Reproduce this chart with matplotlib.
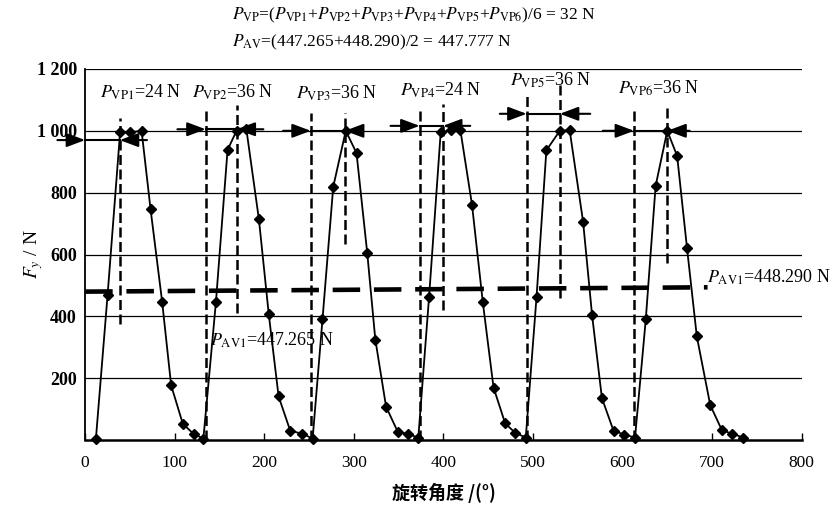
import numpy as np
import matplotlib
matplotlib.use('Agg')
import matplotlib.pyplot as plt

plt.rcParams['font.family'] = ['Liberation Serif', 'DejaVu Serif']
plt.rcParams['mathtext.fontset'] = 'stix'

# measured force curve (rotation angle in deg, Fy in N)
angle = [12, 25, 39, 50, 63, 73, 86, 96, 109, 121, 132,
         146, 159, 169, 180, 194, 205, 216, 229, 242, 254,
         265, 277, 291, 303, 315, 324, 336, 349, 360, 372,
         384, 397, 409, 419, 432, 444, 456, 469, 480, 492,
         504, 515, 530, 541, 556, 566, 577, 590, 602, 614,
         626, 637, 650, 661, 672, 683, 698, 711, 722, 735]
force = [5, 468, 995, 995, 1000, 747, 446, 177, 53, 20, 5,
         446, 938, 1000, 1005, 714, 407, 141, 30, 21, 5,
         390, 819, 1000, 928, 604, 325, 108, 27, 20, 8,
         462, 995, 1002, 1002, 760, 446, 170, 54, 24, 8,
         462, 937, 1000, 1002, 706, 405, 136, 30, 18, 8,
         390, 822, 1000, 919, 622, 335, 113, 32, 21, 8]

# average force line
pav_x = [0, 695]
pav_y = [480, 494]

# peak-to-peak markers
vp_labels = ['24', '36', '36', '24', '36', '36']
vp_left = [0, 134.6, 252, 373.5, 493, 613]
vp_right = [38.6, 169, 290, 399.5, 530, 650]
arr_h = [970, 1005, 1000, 1016, 1055, 1000]
arr_start = [-31, 103, 221, 341, 463, 578]
arr_end = [69, 199, 309, 430, 564, 675]
# vertical dashed guides
left_top = [None, 1070, 1058, 1074, 1119, 1065]
right_top = [1040, 1085, 1058, 1087, 1151, 1080]
right_bot = [375, 410, 635, 419, 458, 571]
lab_x = [17, 119, 235, 352, 474, 595]
lab_y = [1125, 1125, 1120, 1131, 1164, 1138]

fig = plt.figure(figsize=(8.35, 5.07), dpi=100)
ax = fig.add_axes([0.102, 0.132, 0.858, 0.732])

ax.set_xlim(0, 800)
ax.set_ylim(0, 1200)
ax.set_yticks([200, 400, 600, 800, 1000, 1200])
ax.set_yticklabels(['200', '400', '600', '800', '1 000', '1 200'],
                   fontsize=13, fontweight='bold')
ax.set_xticks(np.arange(0, 801, 100))
ax.set_xticklabels([str(v) for v in range(0, 801, 100)], fontsize=12.5)
ax.tick_params(axis='x', direction='in', length=5, width=1, pad=11)
ax.tick_params(axis='y', length=0, pad=6)
ax.yaxis.grid(True, color='k', lw=0.9)
ax.set_axisbelow(True)
for s in ['top', 'right']:
    ax.spines[s].set_visible(False)
ax.spines['left'].set_linewidth(1.3)
ax.spines['bottom'].set_linewidth(1.8)

ax.plot(angle, force, 'k-', lw=1.3, marker='D', ms=5.5, zorder=5, clip_on=False)

ax.plot(pav_x, pav_y, color='k', lw=3.3, ls=(0, (6, 3)), zorder=3)

for i in range(6):
    h = arr_h[i]
    ax.plot([vp_left[i], vp_right[i]], [h, h], 'k-', lw=1.5, clip_on=False, zorder=4)
    ax.annotate('', xy=(vp_left[i], h), xytext=(arr_start[i], h), annotation_clip=False,
                arrowprops=dict(arrowstyle='-|>,head_length=0.8,head_width=0.3',
                                color='k', lw=1.5, mutation_scale=14, shrinkA=0, shrinkB=0))
    ax.annotate('', xy=(vp_right[i], h), xytext=(arr_end[i], h), annotation_clip=False,
                arrowprops=dict(arrowstyle='-|>,head_length=0.8,head_width=0.3',
                                color='k', lw=1.5, mutation_scale=14, shrinkA=0, shrinkB=0))
    if left_top[i] is not None:
        ax.plot([vp_left[i], vp_left[i]], [0, left_top[i]], color='k', lw=1.8,
                ls=(0, (4, 1.8)), zorder=3)
    ax.plot([vp_right[i], vp_right[i]], [right_bot[i], right_top[i]], color='k', lw=1.8,
            ls=(0, (4, 1.8)), zorder=3)
    ax.text(lab_x[i], lab_y[i], r'$P_{\mathrm{VP%d}}$=%s N' % (i + 1, vp_labels[i]),
            fontsize=13, va='center', ha='left')

ax.text(139, 323, r'$P_{\mathrm{AV1}}$=447.265 N', fontsize=13, va='center', ha='left')
ax.text(694, 527, r'$P_{\mathrm{AV1}}$=448.290 N', fontsize=13, va='center', ha='left',
        clip_on=False)

fig.text(232 / 835, 1 - 15 / 507,
         r'$P_{\mathrm{VP}}$=($P_{\mathrm{VP1}}$+$P_{\mathrm{VP2}}$+$P_{\mathrm{VP3}}$+'
         r'$P_{\mathrm{VP4}}$+$P_{\mathrm{VP5}}$+$P_{\mathrm{VP6}}$)/6 = 32 N',
         fontsize=12.5, va='center', ha='left')
fig.text(232 / 835, 1 - 42 / 507,
         r'$P_{\mathrm{AV}}$=(447.265+448.290)/2 = 447.777 N',
         fontsize=12.5, va='center', ha='left')

ax.set_ylabel(r'$F_y$ / N', fontsize=14)
ax.yaxis.set_label_coords(-0.056, 0.5)
ax.set_xlabel('旋转角度 /(°)', fontsize=13, fontweight='bold', labelpad=8,
              family=['Noto Sans CJK SC', 'DejaVu Sans'])

plt.savefig('out.png', dpi=100)
plt.close()
print('Saved out.png')
